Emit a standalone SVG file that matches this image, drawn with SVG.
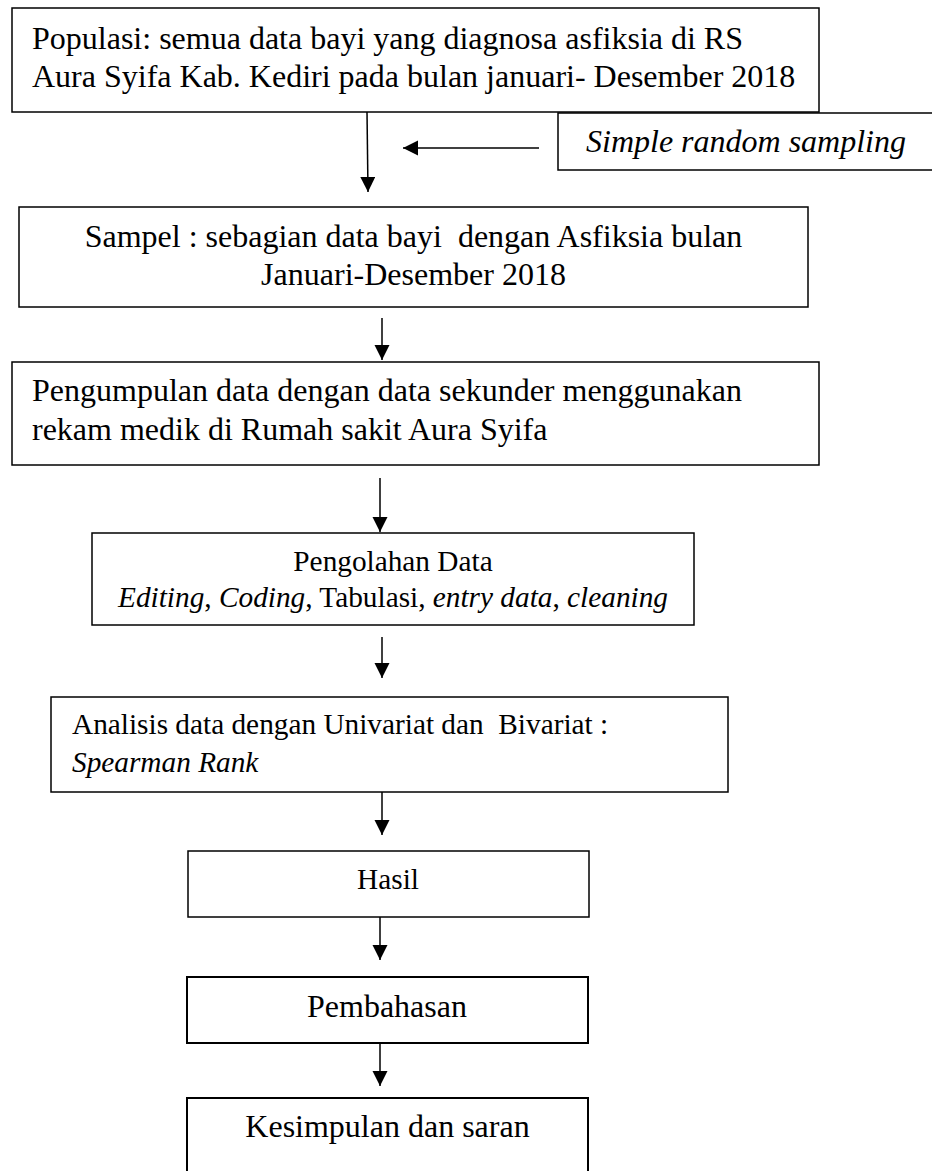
<svg xmlns="http://www.w3.org/2000/svg" width="932" height="1171" viewBox="0 0 932 1171">
<defs>
<style>
.box{fill:#fff;stroke:#000;stroke-width:1.5}
.box2{fill:#fff;stroke:#000;stroke-width:2}
.t{font-family:"Liberation Serif","Times New Roman",serif;fill:#000;white-space:pre}
.l{font-size:32px}
.s{font-size:29.3px}
.i{font-style:italic}
.c{text-anchor:middle}
.con{stroke:#000;stroke-width:1.5;fill:none;marker-end:url(#ah)}
</style>
<marker id="ah" markerUnits="userSpaceOnUse" markerWidth="16" markerHeight="16" refX="15" refY="7.5" orient="auto">
<path d="M0,0 L15,7.5 L0,15 z" fill="#000"/>
</marker>
</defs>
<g id="connectors">
<line class="con" x1="367" y1="112" x2="368" y2="192"/>
<line class="con" x1="539" y1="148" x2="403" y2="148"/>
<line class="con" x1="382" y1="318" x2="382" y2="360"/>
<line class="con" x1="380" y1="478" x2="380" y2="532"/>
<line class="con" x1="382" y1="637" x2="382" y2="678"/>
<line class="con" x1="382" y1="792" x2="382" y2="835"/>
<line class="con" x1="380" y1="917" x2="380" y2="960"/>
<line class="con" x1="380" y1="1043" x2="380" y2="1086"/>
</g>
<g id="populasi">
<rect class="box" x="12" y="8" width="807" height="104"/>
<text class="t l" x="32" y="49">Populasi: semua data bayi yang diagnosa asfiksia di RS</text>
<text class="t l" x="32" y="87">Aura Syifa Kab. Kediri pada bulan januari- Desember 2018</text>
</g>
<g id="sampling">
<rect class="box" x="558" y="113" width="380" height="57"/>
<text class="t l i" x="586" y="152">Simple random sampling</text>
</g>
<g id="sampel">
<rect class="box" x="19" y="207" width="789" height="100"/>
<text class="t l c" x="413.5" y="247">Sampel : sebagian data bayi  dengan Asfiksia bulan</text>
<text class="t l c" x="413.5" y="285">Januari-Desember 2018</text>
</g>
<g id="pengumpulan">
<rect class="box" x="12" y="362" width="807" height="103"/>
<text class="t l" x="32" y="401">Pengumpulan data dengan data sekunder menggunakan</text>
<text class="t l" x="32" y="440">rekam medik di Rumah sakit Aura Syifa</text>
</g>
<g id="pengolahan">
<rect class="box" x="92" y="533" width="602" height="92"/>
<text class="t s c" x="393" y="571">Pengolahan Data</text>
<text class="t s c" x="393" y="607"><tspan class="i">Editing</tspan>, <tspan class="i">Coding</tspan>, Tabulasi, <tspan class="i">entry data</tspan>, <tspan class="i">cleaning</tspan></text>
</g>
<g id="analisis">
<rect class="box" x="51" y="697" width="677" height="95"/>
<text class="t s" x="72" y="734">Analisis data dengan Univariat dan  Bivariat :</text>
<text class="t s i" x="72" y="772">Spearman Rank</text>
</g>
<g id="hasil">
<rect class="box" x="188" y="851" width="401" height="66"/>
<text class="t s c" x="388" y="889">Hasil</text>
</g>
<g id="pembahasan">
<rect class="box2" x="187" y="977" width="401" height="66"/>
<text class="t l c" x="387" y="1017">Pembahasan</text>
</g>
<g id="kesimpulan">
<rect class="box2" x="187" y="1098" width="401" height="80"/>
<text class="t l c" x="387.5" y="1137">Kesimpulan dan saran</text>
</g>
</svg>
